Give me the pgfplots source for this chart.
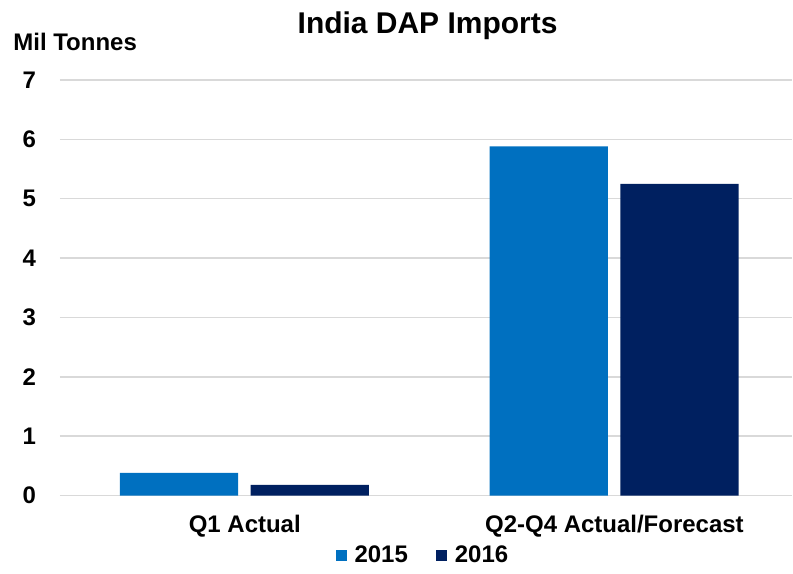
\documentclass[border=0pt]{standalone}
\usepackage{fontspec}
\setmainfont{Liberation Sans}
\usepackage{pgfplots}
\pgfplotsset{compat=1.18}
\definecolor{c2015}{HTML}{0070C0}
\definecolor{c2016}{HTML}{002060}
\definecolor{gridgray}{HTML}{D9D9D9}
\begin{document}
\begin{tikzpicture}
\begin{axis}[
  scale only axis, width=366.5pt, height=208pt,
  xmin=-0.5, xmax=1.481, ymin=0, ymax=7,
  xtick={0,1}, xticklabels={Q1 Actual, Q2-Q4 Actual/Forecast},
  ytick={0,1,...,7},
  ymajorgrids, grid style={gridgray, line width=0.75pt},
  axis line style={draw=none},
  major tick length=0pt,
  /pgf/number format/assume math mode=true,
  ticklabel style={font=\bfseries\fontsize{12}{14}\selectfont},
  yticklabel style={xshift=-8.5pt},
  xticklabel style={yshift=-6.5pt},
  ybar, bar width=0.32,
  clip=false,
  legend columns=2,
  legend image code/.code={\fill[#1] (0pt,-2.75pt) rectangle (5.5pt,2.75pt);},
  legend style={draw=none, fill=none, at={(0.497,-0.144)}, anchor=center,
    font=\bfseries\fontsize{12}{14}\selectfont,
    /tikz/every odd column/.append style={column sep=2pt},
    /tikz/every even column/.append style={column sep=12pt}},
]
\addplot[fill=c2015, draw=none, bar shift=-0.178] coordinates {(0,0.38) (1,5.88)};
\addplot[fill=c2016, draw=none, bar shift=0.176] coordinates {(0,0.18) (1,5.25)};
\legend{2015,2016}
\node[anchor=base, font=\bfseries\fontsize{15}{18}\selectfont, inner sep=0pt]
  at ([yshift=23.3pt]rel axis cs:0.502,1) {India DAP Imports};
\node[anchor=base west, font=\bfseries\fontsize{12}{14}\selectfont, inner sep=0pt]
  at ([xshift=-23.5pt, yshift=14.9pt]rel axis cs:0,1) {Mil Tonnes};
\coordinate (bl) at (rel axis cs:0,0);
\coordinate (tr) at (rel axis cs:1,1);
\end{axis}
\useasboundingbox ([shift={(-30pt,-36pt)}]bl) rectangle ([shift={(0pt,40pt)}]tr);
\end{tikzpicture}
\end{document}
